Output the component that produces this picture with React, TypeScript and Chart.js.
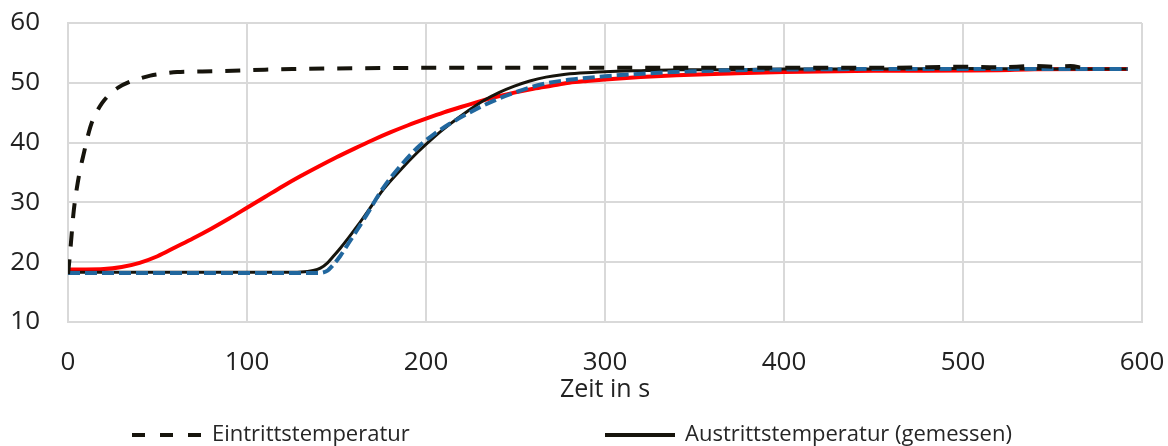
import { useEffect, useRef } from "react";
import { Chart, registerables } from "chart.js";

Chart.register(...registerables);

const FONT = "'Open Sans', 'Noto Sans', sans-serif";

// Axis ticks
const xTicks = [0, 100, 200, 300, 400, 500, 600];
const yTicks = [10, 20, 30, 40, 50, 60];

// Series labels
const seriesLabels = [
  "Eintrittstemperatur",
  "Austrittstemperatur (gemessen)",
  "Austrittstemperatur (Modell ohne Speicher)",
  "Austrittstemperatur (simuliert)",
];

// Eintrittstemperatur (black dashed)
const inletTime = [0, 1, 2, 3, 5, 7, 9, 11, 13, 16, 19, 23, 28, 34, 40, 46, 52, 61, 75, 92, 110, 126, 150, 200, 250, 300, 350, 400, 450, 480, 500, 520, 540, 550, 560, 567];
const inletTemp = [18, 21, 24.5, 28, 32.5, 35.8, 38.4, 41, 43.1, 45.1, 46.6, 48, 49.2, 50.1, 50.7, 51.2, 51.5, 51.8, 51.9, 52.0, 52.2, 52.3, 52.4, 52.5, 52.5, 52.5, 52.5, 52.5, 52.5, 52.6, 52.7, 52.6, 52.8, 52.7, 52.8, 52.5];

// Austrittstemperatur gemessen (black solid)
const measuredTime = [0, 30, 60, 90, 120, 130, 137, 141, 145, 148, 152, 157, 162, 167, 176, 186, 195, 204, 213, 223, 232, 241, 249, 258, 267, 276, 286, 300, 323, 342, 370, 400, 450, 500, 550, 592];
const measuredTemp = [18.3, 18.3, 18.3, 18.3, 18.3, 18.35, 18.6, 19.0, 19.9, 20.9, 22.3, 24.2, 26.2, 28.3, 32.1, 35.5, 38.3, 40.8, 43.0, 45.2, 47.0, 48.4, 49.4, 50.3, 50.95, 51.35, 51.62, 51.85, 52.05, 52.2, 52.2, 52.3, 52.3, 52.4, 52.3, 52.3];

// Red model curve
const modelTime = [0, 10, 20, 30, 40, 50, 60, 70, 80, 90, 100, 110, 120, 130, 140, 150, 160, 170, 180, 190, 200, 210, 220, 230, 240, 250, 260, 270, 280, 290, 300, 320, 340, 370, 400, 450, 500, 520, 540, 592];
const modelTemp = [18.8, 18.8, 18.85, 19.2, 19.9, 21.0, 22.5, 24.0, 25.6, 27.3, 29.1, 30.9, 32.7, 34.4, 36.0, 37.55, 39.0, 40.4, 41.7, 42.9, 44.0, 45.05, 46.0, 46.9, 47.7, 48.4, 49.0, 49.5, 50.0, 50.3, 50.55, 50.95, 51.25, 51.55, 51.8, 52.0, 52.05, 52.1, 52.25, 52.3];

// Blue dashed simulated curve
const simTime = [0, 30, 60, 90, 120, 140, 145, 148, 152, 157, 162, 167, 176, 186, 195, 204, 213, 223, 232, 241, 249, 258, 267, 276, 286, 300, 323, 342, 370, 400, 450, 500, 550, 592];
const simTemp = [18.2, 18.2, 18.2, 18.2, 18.2, 18.2, 18.6, 19.5, 21.0, 23.3, 25.6, 28.0, 32.4, 36.2, 39.1, 41.3, 43.1, 44.8, 46.2, 47.4, 48.3, 49.2, 49.9, 50.35, 50.7, 51.1, 51.55, 51.85, 52.1, 52.2, 52.3, 52.3, 52.3, 52.3];

const toPoints = (xs: number[], ys: number[]) => xs.map((x, i) => ({ x, y: ys[i] }));

const colLegend = {
  id: "colLegend",
  afterDraw(chart: any) {
    const { ctx, chartArea } = chart;
    const colW = 473;
    const x0 = (chartArea.left + chartArea.right) / 2 - colW;
    const y0 = chartArea.bottom + 113;
    ctx.save();
    chart.data.datasets.forEach((ds: any, i: number) => {
      const x = x0 + (i % 2) * colW;
      const y = y0 + Math.floor(i / 2) * 28;
      ctx.beginPath();
      ctx.strokeStyle = ds.borderColor;
      ctx.lineWidth = ds.legendWidth ?? ds.borderWidth;
      ctx.lineCap = "butt";
      ctx.setLineDash(ds.legendDash ?? ds.borderDash ?? []);
      ctx.moveTo(x, y);
      ctx.lineTo(x + 70, y);
      ctx.stroke();
      ctx.setLineDash([]);
      ctx.font = `22px ${FONT}`;
      ctx.fillStyle = "#262626";
      ctx.textBaseline = "middle";
      ctx.textAlign = "left";
      ctx.fillText(ds.label, x + 80, y);
    });
    ctx.restore();
  },
};

export default function App() {
  const ref = useRef<HTMLCanvasElement | null>(null);

  useEffect(() => {
    if (!ref.current) return;
    const chart = new Chart(ref.current, {
      type: "line",
      data: {
        datasets: [
          {
            label: seriesLabels[0],
            data: toPoints(inletTime, inletTemp),
            borderColor: "#16140c",
            borderWidth: 4,
            borderDash: [15, 13],
            legendDash: [13, 15],
            order: 0,
          } as any,
          {
            label: seriesLabels[1],
            data: toPoints(measuredTime, measuredTemp),
            borderColor: "#16140c",
            borderWidth: 3,
            legendWidth: 4,
            order: 2,
          },
          {
            label: seriesLabels[2],
            data: toPoints(modelTime, modelTemp),
            borderColor: "#ff0000",
            borderWidth: 4,
            order: 3,
          },
          {
            label: seriesLabels[3],
            data: toPoints(simTime, simTemp),
            borderColor: "#21679e",
            borderWidth: 4,
            borderDash: [12, 5],
            order: 1,
          },
        ],
      },
      options: {
        animation: false,
        responsive: false,
        devicePixelRatio: 1,
        elements: {
          point: { radius: 0, hoverRadius: 0 },
          line: { cubicInterpolationMode: "monotone", fill: false },
        },
        layout: { padding: { top: 23, right: 26, left: 0, bottom: 41 } },
        plugins: {
          legend: { display: false },
          tooltip: { enabled: false },
        },
        scales: {
          x: {
            type: "linear",
            min: 0,
            max: 600,
            afterBuildTicks: (axis: any) => {
              axis.ticks = xTicks.map((v) => ({ value: v }));
            },
            afterFit: (axis: any) => {
              axis.height = 83;
              axis.paddingLeft = 0;
              axis.paddingRight = 0;
            },
            ticks: {
              color: "#222",
              font: { family: FONT, size: 26 },
              padding: 25,
              maxRotation: 0,
            },
            grid: { color: "#d9d9d9", lineWidth: 2, drawTicks: false },
            border: { color: "#d9d9d9", width: 2 },
            title: {
              display: true,
              text: "Zeit in s",
              color: "#222",
              font: { family: FONT, size: 25 },
              padding: { top: 0, bottom: 0 },
            },
          },
          y: {
            type: "linear",
            min: 10,
            max: 60,
            afterBuildTicks: (axis: any) => {
              axis.ticks = yTicks.map((v) => ({ value: v }));
            },
            afterFit: (axis: any) => {
              axis.width = 68;
              axis.paddingTop = 0;
              axis.paddingBottom = 0;
            },
            ticks: {
              color: "#222",
              font: { family: FONT, size: 26 },
              padding: 28,
            },
            grid: { color: "#d9d9d9", lineWidth: 2, drawTicks: false },
            border: { color: "#d9d9d9", width: 2 },
          },
        },
      },
      plugins: [colLegend],
    } as any);
    return () => chart.destroy();
  }, []);

  return (
    <div style={{ position: "absolute", left: 0, top: 0, width: 1168, height: 446, overflow: "hidden" }}>
      <canvas ref={ref} width={1168} height={446} style={{ display: "block" }} />
    </div>
  );
}
